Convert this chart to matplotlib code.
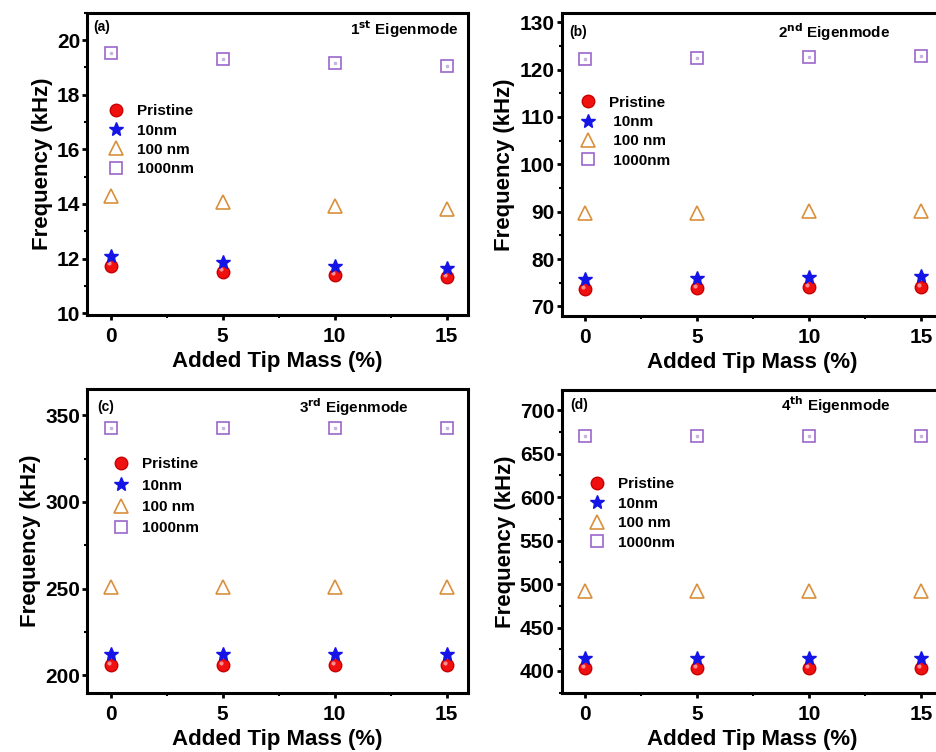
import matplotlib
matplotlib.use('Agg')
from matplotlib import pyplot as plt
from matplotlib.ticker import MultipleLocator
from matplotlib.transforms import offset_copy

plt.rcParams['font.family'] = ['Liberation Sans', 'DejaVu Sans']
plt.rcParams['font.weight'] = 'bold'

'''Data read off the four panels'''
tip_mass = [0, 5, 10, 15]

pristine_1 = [11.74, 11.52, 11.40, 11.32]
nm10_1 = [12.10, 11.87, 11.74, 11.67]
nm100_1 = [14.29, 14.06, 13.93, 13.81]
nm1000_1 = [19.51, 19.32, 19.17, 19.06]

pristine_2 = [73.6, 73.8, 74.0, 74.0]
nm10_2 = [75.8, 76.0, 76.2, 76.4]
nm100_2 = [89.7, 89.7, 90.1, 90.2]
nm1000_2 = [122.3, 122.4, 122.7, 122.8]

pristine_3 = [206, 206, 206, 206]
nm10_3 = [212, 212, 212, 212]
nm100_3 = [251, 251, 251, 251]
nm1000_3 = [342.5, 342.5, 342.5, 342.5]

pristine_4 = [403, 403, 403, 403]
nm10_4 = [415, 415, 415, 415]
nm100_4 = [492, 492, 492, 492]
nm1000_4 = [670, 670, 670, 670]

series_labels = ['Pristine', '10nm', '100 nm', '1000nm']
series_labels_b = ['Pristine', ' 10nm', ' 100 nm', ' 1000nm']

panels = [
    # rect, data, ylim, major, minor, tag, mode, sup, mode_xy, tag_xy, leg_xy, legend labels, label spacing
    ([0.093, 0.581, 0.407, 0.402], [pristine_1, nm10_1, nm100_1, nm1000_1], (9.93, 21.0), 2, 1,
     '(a)', '1', 'st', (0.974, 0.947), (0.016, 0.954), (0.056, 0.697), series_labels, 0.34),
    ([0.600, 0.580, 0.407, 0.403], [pristine_2, nm10_2, nm100_2, nm1000_2], (68.0, 132.0), 10, 5,
     '(b)', '2', 'nd', (0.864, 0.937), (0.021, 0.937), (0.048, 0.727), series_labels_b, 0.35),
    ([0.093, 0.0785, 0.407, 0.404], [pristine_3, nm10_3, nm100_3, nm1000_3], (189.8, 365.0), 50, 25,
     '(c)', '3', 'rd', (0.845, 0.941), (0.026, 0.941), (0.068, 0.776), series_labels, 0.48),
    ([0.600, 0.0785, 0.407, 0.403], [pristine_4, nm10_4, nm100_4, nm1000_4], (374.7, 723.4), 50, 25,
     '(d)', '4', 'th', (0.864, 0.950), (0.024, 0.950), (0.073, 0.711), series_labels, 0.35),
]

fig = plt.figure(figsize=(9.36, 7.52), dpi=100)

for rect, data, ylim, major, minor, tag, mode, sup, mode_xy, tag_xy, leg_xy, labels, lsp in panels:
    ax = fig.add_axes(rect)
    ax.plot(tip_mass, data[0], 'o', color='#f01010', markeredgecolor='#c80000',
            markersize=9, label=labels[0])
    # little highlight on the red spheres (upper left)
    shine = offset_copy(ax.transData, fig=fig, x=-1.3, y=1.6, units='points')
    ax.plot(tip_mass, data[0], 'o', color='#ff8c8c', markeredgewidth=0,
            markersize=3, transform=shine)
    ax.plot(tip_mass, data[1], '*', color='#1414e6', markeredgecolor='#1414e6',
            markersize=10, label=labels[1])
    ax.plot(tip_mass, data[2], '^', markerfacecolor='none', markeredgecolor='#d9903c',
            markeredgewidth=1.2, markersize=10, label=labels[2])
    ax.plot(tip_mass, data[3], 's', markerfacecolor='none', markeredgecolor='#9a66cc',
            markeredgewidth=1.2, markersize=8, label=labels[3])
    ax.plot(tip_mass, data[3], 's', color='#c8b4e4', markersize=1.5)

    ax.set_xlim(-1.05, 15.95)
    ax.set_ylim(*ylim)
    ax.set_xticks(tip_mass)
    ax.xaxis.set_minor_locator(MultipleLocator(2.5))
    ax.yaxis.set_major_locator(MultipleLocator(major))
    ax.yaxis.set_minor_locator(MultipleLocator(minor))
    ax.tick_params(which='major', direction='out', length=3.5, width=2, labelsize=15)
    ax.tick_params(axis='x', which='major', pad=5)
    ax.tick_params(axis='y', which='major', pad=1.5)
    ax.tick_params(which='minor', direction='out', length=2.5, width=1.5)
    for s in ax.spines.values():
        s.set_linewidth(2.2)

    ax.set_xlabel('Added Tip Mass (%)', fontsize=16, fontweight='bold', labelpad=4)
    ax.set_ylabel('Frequency (kHz)', fontsize=16, fontweight='bold', labelpad=3)

    ax.text(tag_xy[0], tag_xy[1], tag, transform=ax.transAxes, fontsize=10,
            fontweight='bold', ha='left', va='center')
    ax.text(mode_xy[0], mode_xy[1], mode + r'$^{\mathbf{' + sup + '}}$ Eigenmode',
            transform=ax.transAxes, fontsize=11, fontweight='bold', ha='right', va='center')

    ax.legend(loc='upper left', bbox_to_anchor=leg_xy, frameon=False,
              handlelength=1.0, handletextpad=0.9, labelspacing=lsp, borderpad=0,
              borderaxespad=0, prop={'weight': 'bold', 'size': 11})

plt.savefig('out.png', dpi=100)
